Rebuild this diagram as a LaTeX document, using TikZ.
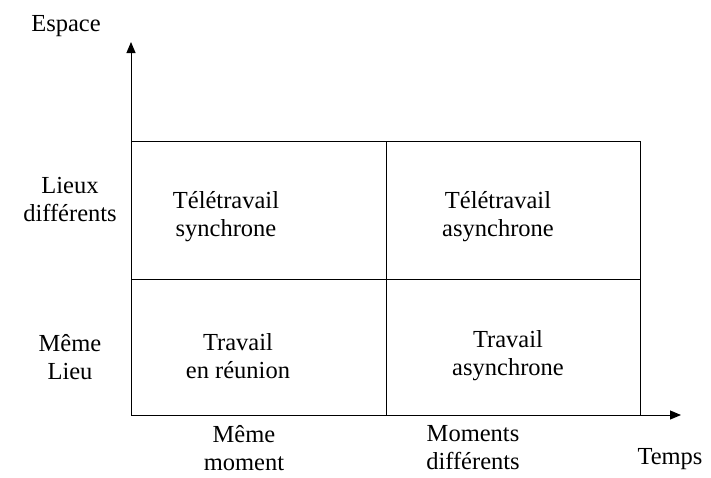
\documentclass[tikz,border=0pt]{standalone}
\usepackage{fontspec}
\setmainfont{Liberation Serif}
\usetikzlibrary{arrows.meta}
\begin{document}
\begin{tikzpicture}[x=1pt,y=-1pt,
  lbl/.style={align=center,inner sep=0pt,font=\fontsize{24.5}{28}\selectfont},
  axis/.style={line width=1pt,-{Triangle[length=11pt,width=9pt]}},
  grid/.style={line width=0.9pt}]
\useasboundingbox (0,0) rectangle (711,477);
\coordinate (o) at (131,415);
\coordinate (ytip) at (131,42);
\coordinate (xtip) at (681,415);
\coordinate (tl) at (131,141);
\coordinate (tr) at (640,141);
\coordinate (ml) at (131,279);
\coordinate (mr) at (640,279);
\coordinate (tm) at (386,141);
\coordinate (bm) at (386,415);
\coordinate (br) at (640,415);
\draw[axis] (o) -- (ytip);
\draw[axis] (o) -- (xtip);
\draw[grid] (tl) -- (tr) -- (br);
\draw[grid] (ml) -- (mr);
\draw[grid] (tm) -- (bm);
\node[lbl] (esp) at (66,26) {Espace};
\node[lbl] (ld) at (70,200) {Lieux\\différents};
\node[lbl] (ml2) at (70,357) {Même\\Lieu};
\node[lbl] (ts) at (226,217) {Télétravail\\synchrone};
\node[lbl] (ta) at (498,217) {Télétravail\\asynchrone};
\node[lbl] (tr2) at (238,356) {Travail\\en réunion};
\node[lbl] (tas) at (508,356) {Travail\\asynchrone};
\node[lbl] (mm) at (244,448) {Même\\moment};
\node[lbl] (md) at (473,448) {Moments\\différents};
\node[lbl] (tps) at (670,459) {Temps};
\end{tikzpicture}
\end{document}
